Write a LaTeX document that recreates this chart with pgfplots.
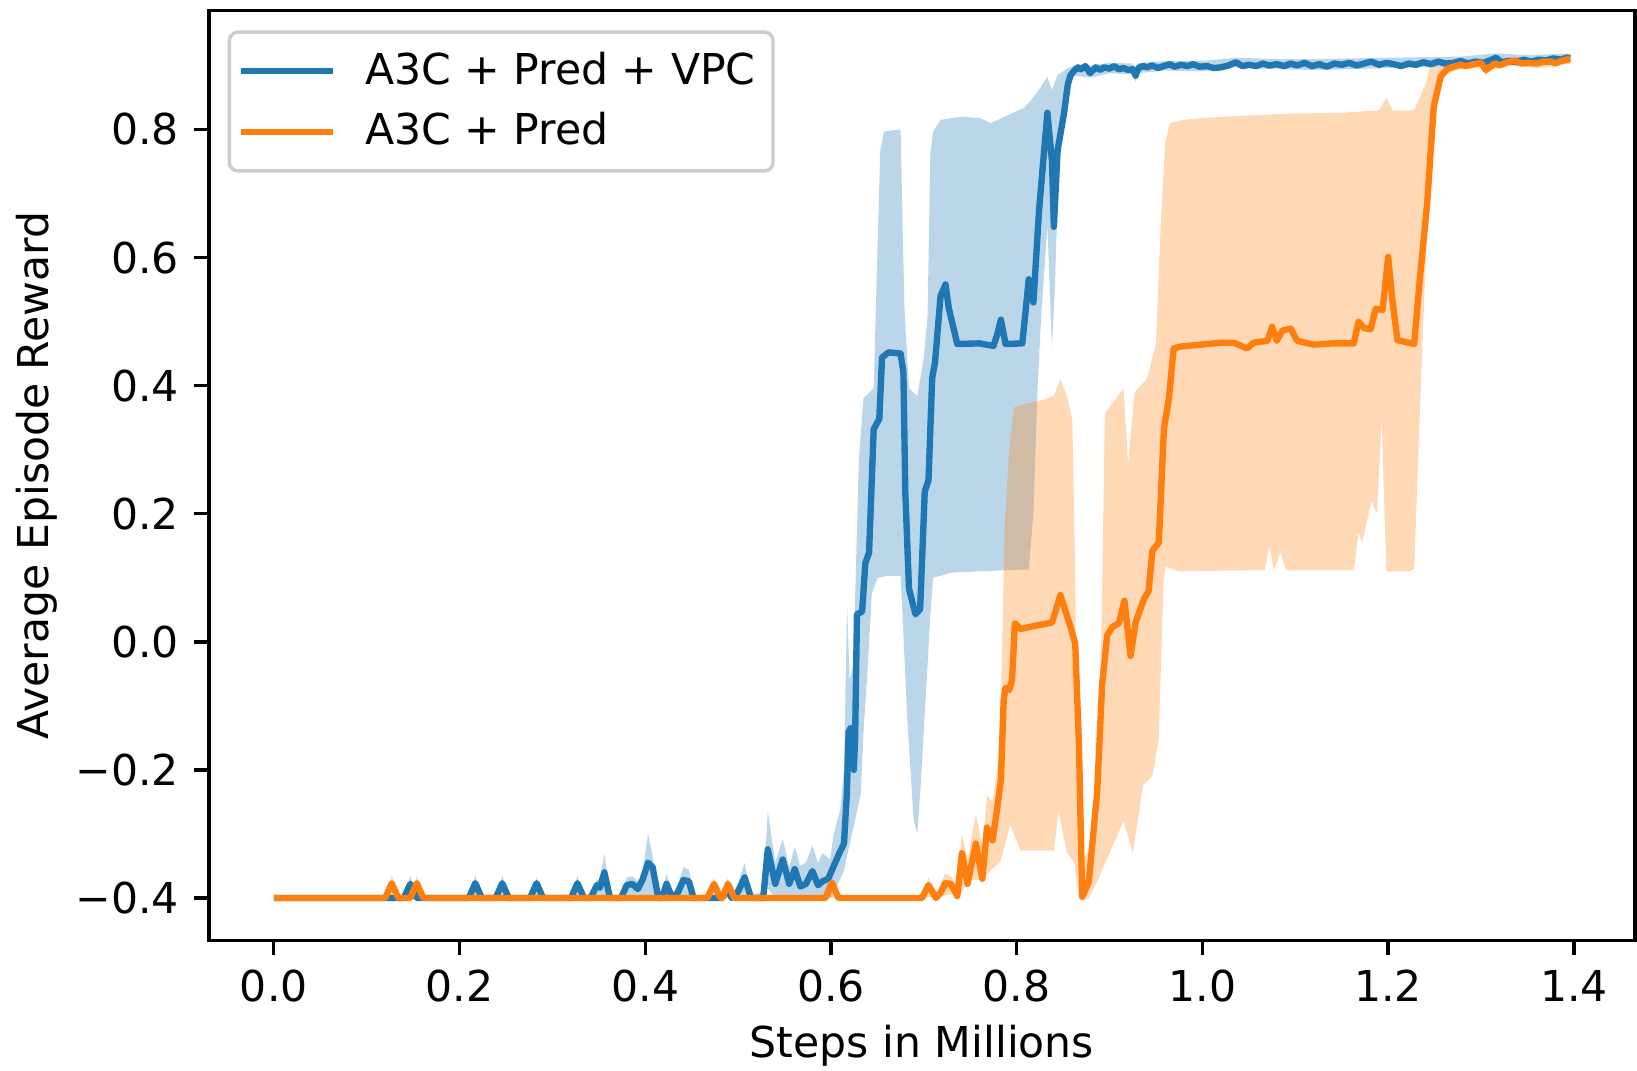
\documentclass[border=0pt]{standalone}
\usepackage{pgfplots}
\pgfplotsset{compat=1.18}
\usepgfplotslibrary{fillbetween}
\usepackage{fontspec}
\setmainfont{DejaVu Sans}

\definecolor{tabblue}{RGB}{31,119,180}
\definecolor{taborange}{RGB}{255,127,14}

% mean reward, A3C + Pred + VPC
\pgfplotstableread{
x y
0.000 -0.400
0.140 -0.400
0.147 -0.378
0.154 -0.400
0.210 -0.400
0.217 -0.377
0.224 -0.400
0.239 -0.400
0.246 -0.377
0.253 -0.400
0.276 -0.400
0.283 -0.377
0.290 -0.400
0.320 -0.400
0.327 -0.377
0.334 -0.400
0.341 -0.400
0.348 -0.380
0.351 -0.384
0.356 -0.360
0.362 -0.400
0.374 -0.400
0.380 -0.380
0.386 -0.378
0.392 -0.386
0.397 -0.372
0.403 -0.345
0.408 -0.352
0.414 -0.400
0.418 -0.400
0.423 -0.378
0.429 -0.400
0.435 -0.392
0.441 -0.372
0.447 -0.374
0.452 -0.400
0.483 -0.400
0.488 -0.384
0.493 -0.400
0.500 -0.390
0.507 -0.368
0.514 -0.400
0.527 -0.400
0.532 -0.324
0.540 -0.378
0.548 -0.340
0.555 -0.378
0.561 -0.355
0.567 -0.382
0.573 -0.378
0.580 -0.358
0.586 -0.380
0.591 -0.374
0.597 -0.370
0.603 -0.350
0.609 -0.330
0.614 -0.315
0.617 -0.240
0.619 -0.141
0.621 -0.135
0.6246 -0.200
0.626 -0.150
0.628 0.043
0.6335 0.047
0.637 0.123
0.641 0.139
0.646 0.332
0.652 0.348
0.655 0.444
0.662 0.452
0.675 0.450
0.678 0.420
0.680 0.235
0.684 0.083
0.691 0.043
0.696 0.051
0.701 0.235
0.705 0.252
0.709 0.412
0.712 0.436
0.718 0.540
0.7233 0.558
0.727 0.520
0.736 0.465
0.760 0.466
0.775 0.462
0.779 0.480
0.783 0.503
0.788 0.465
0.806 0.466
0.813 0.566
0.818 0.530
0.824 0.673
0.833 0.826
0.838 0.750
0.840 0.648
0.844 0.767
0.851 0.826
0.855 0.870
0.858 0.885
0.862 0.892
0.866 0.897
0.869 0.894
0.874 0.899
0.879 0.888
0.885 0.897
0.890 0.893
0.894 0.897
0.900 0.895
0.905 0.899
0.910 0.894
0.915 0.896
0.920 0.893
0.925 0.894
0.928 0.884
0.931 0.896
0.936 0.899
0.940 0.897
0.946 0.900
0.952 0.896
0.958 0.899
0.965 0.902
0.970 0.898
0.977 0.901
0.984 0.899
0.990 0.902
0.997 0.898
1.005 0.899
1.012 0.896
1.020 0.897
1.028 0.900
1.036 0.905
1.043 0.899
1.050 0.901
1.058 0.899
1.065 0.903
1.072 0.900
1.080 0.902
1.088 0.899
1.095 0.903
1.102 0.900
1.110 0.904
1.118 0.899
1.126 0.902
1.134 0.898
1.142 0.903
1.150 0.901
1.158 0.904
1.166 0.900
1.174 0.903
1.182 0.906
1.190 0.901
1.198 0.904
1.206 0.902
1.214 0.899
1.222 0.903
1.230 0.901
1.238 0.905
1.246 0.902
1.254 0.906
1.262 0.903
1.270 0.904
1.278 0.907
1.286 0.903
1.294 0.906
1.302 0.904
1.310 0.908
1.316 0.912
1.322 0.905
1.330 0.907
1.338 0.905
1.346 0.909
1.354 0.906
1.362 0.909
1.370 0.908
1.378 0.911
1.386 0.909
1.392 0.912
1.396 0.911
}\vpcmean

% upper edge of the spread, A3C + Pred + VPC
\pgfplotstableread{
x y
0.000 -0.400
0.140 -0.400
0.147 -0.365
0.154 -0.400
0.210 -0.400
0.217 -0.365
0.224 -0.400
0.239 -0.400
0.246 -0.365
0.253 -0.400
0.276 -0.400
0.283 -0.368
0.290 -0.400
0.320 -0.400
0.327 -0.365
0.334 -0.400
0.341 -0.400
0.348 -0.370
0.351 -0.374
0.356 -0.330
0.362 -0.398
0.374 -0.398
0.380 -0.368
0.386 -0.366
0.392 -0.374
0.397 -0.360
0.403 -0.300
0.408 -0.335
0.414 -0.390
0.418 -0.392
0.423 -0.362
0.429 -0.392
0.435 -0.380
0.441 -0.352
0.447 -0.356
0.452 -0.396
0.483 -0.396
0.488 -0.370
0.493 -0.396
0.500 -0.378
0.507 -0.345
0.514 -0.396
0.527 -0.390
0.532 -0.264
0.540 -0.345
0.548 -0.308
0.555 -0.352
0.561 -0.320
0.567 -0.350
0.573 -0.345
0.580 -0.318
0.586 -0.345
0.591 -0.330
0.599 -0.340
0.603 -0.300
0.610 -0.262
0.614 -0.200
0.6174 0.059
0.620 -0.060
0.624 -0.037
0.630 0.284
0.635 0.380
0.646 0.396
0.653 0.765
0.657 0.797
0.675 0.800
0.679 0.524
0.684 0.396
0.693 0.384
0.700 0.444
0.704 0.508
0.707 0.765
0.710 0.797
0.718 0.815
0.740 0.820
0.760 0.818
0.772 0.810
0.790 0.822
0.808 0.834
0.815 0.845
0.822 0.858
0.833 0.882
0.838 0.862
0.844 0.885
0.854 0.895
0.862 0.900
0.880 0.900
0.900 0.904
0.925 0.903
0.928 0.893
0.931 0.904
0.960 0.907
1.000 0.907
1.036 0.912
1.080 0.910
1.120 0.910
1.160 0.911
1.200 0.912
1.240 0.913
1.280 0.914
1.316 0.919
1.350 0.916
1.396 0.919
}\vpchigh

% lower edge of the spread, A3C + Pred + VPC
\pgfplotstableread{
x y
0.000 -0.400
0.527 -0.400
0.532 -0.385
0.540 -0.400
0.600 -0.400
0.614 -0.358
0.621 -0.310
0.626 -0.278
0.632 -0.238
0.635 -0.141
0.639 -0.053
0.644 0.075
0.650 0.099
0.660 0.103
0.675 0.103
0.677 0.043
0.682 -0.117
0.689 -0.278
0.693 -0.300
0.696 -0.238
0.704 -0.037
0.707 0.043
0.710 0.100
0.730 0.108
0.760 0.110
0.790 0.112
0.813 0.113
0.818 0.200
0.822 0.380
0.826 0.500
0.833 0.650
0.838 0.460
0.841 0.550
0.845 0.730
0.850 0.820
0.856 0.870
0.862 0.884
0.880 0.881
0.900 0.888
0.925 0.886
0.928 0.874
0.931 0.888
0.960 0.892
1.000 0.891
1.036 0.897
1.080 0.894
1.120 0.893
1.160 0.894
1.200 0.896
1.240 0.897
1.280 0.898
1.316 0.904
1.350 0.900
1.396 0.903
}\vpclow

% mean reward, A3C + Pred
\pgfplotstableread{
x y
0.000 -0.400
0.120 -0.400
0.127 -0.377
0.134 -0.400
0.147 -0.400
0.154 -0.377
0.161 -0.400
0.467 -0.400
0.474 -0.378
0.481 -0.400
0.483 -0.400
0.489 -0.378
0.496 -0.400
0.594 -0.400
0.601 -0.376
0.608 -0.400
0.698 -0.400
0.705 -0.380
0.713 -0.400
0.718 -0.392
0.723 -0.377
0.729 -0.378
0.736 -0.397
0.741 -0.330
0.747 -0.378
0.756 -0.315
0.763 -0.370
0.768 -0.290
0.774 -0.310
0.779 -0.260
0.783 -0.215
0.786 -0.090
0.788 -0.072
0.792 -0.075
0.795 -0.060
0.798 0.029
0.804 0.020
0.820 0.025
0.838 0.030
0.847 0.073
0.858 0.023
0.863 -0.003
0.867 -0.160
0.8705 -0.398
0.8776 -0.375
0.8866 -0.236
0.892 -0.066
0.8974 0.010
0.9028 0.023
0.910 0.029
0.916 0.064
0.9226 -0.022
0.928 0.030
0.937 0.067
0.942 0.079
0.946 0.142
0.953 0.155
0.9585 0.332
0.964 0.382
0.969 0.458
0.976 0.461
0.998 0.464
1.020 0.467
1.034 0.467
1.048 0.458
1.055 0.467
1.070 0.470
1.075 0.492
1.080 0.470
1.086 0.486
1.095 0.489
1.102 0.470
1.120 0.464
1.140 0.466
1.163 0.466
1.168 0.500
1.174 0.490
1.181 0.488
1.1865 0.520
1.194 0.518
1.200 0.601
1.2044 0.535
1.210 0.471
1.228 0.465
1.234 0.565
1.242 0.685
1.249 0.835
1.2565 0.883
1.264 0.895
1.270 0.898
1.278 0.901
1.284 0.899
1.292 0.902
1.300 0.904
1.305 0.893
1.315 0.903
1.320 0.900
1.328 0.905
1.336 0.907
1.344 0.903
1.350 0.904
1.360 0.903
1.368 0.906
1.375 0.906
1.380 0.903
1.386 0.907
1.392 0.909
1.396 0.911
}\predmean

% upper edge of the spread, A3C + Pred
\pgfplotstableread{
x y
0.000 -0.400
0.120 -0.400
0.127 -0.365
0.134 -0.400
0.147 -0.400
0.154 -0.365
0.161 -0.400
0.467 -0.400
0.474 -0.368
0.481 -0.400
0.483 -0.400
0.489 -0.368
0.496 -0.400
0.594 -0.400
0.601 -0.365
0.608 -0.400
0.698 -0.400
0.705 -0.368
0.713 -0.395
0.723 -0.362
0.729 -0.366
0.736 -0.380
0.741 -0.300
0.747 -0.340
0.756 -0.270
0.763 -0.318
0.768 -0.240
0.774 -0.250
0.779 -0.200
0.783 -0.100
0.787 0.180
0.792 0.300
0.797 0.366
0.810 0.372
0.830 0.378
0.840 0.385
0.847 0.410
0.855 0.380
0.860 0.344
0.863 0.100
0.866 -0.320
0.872 -0.340
0.880 -0.320
0.888 -0.280
0.891 0.000
0.895 0.357
0.902 0.370
0.907 0.380
0.915 0.395
0.920 0.280
0.927 0.390
0.940 0.410
0.950 0.465
0.955 0.650
0.960 0.780
0.965 0.810
0.980 0.815
1.000 0.818
1.050 0.822
1.100 0.825
1.150 0.826
1.190 0.830
1.198 0.849
1.205 0.830
1.228 0.830
1.240 0.870
1.245 0.898
1.256 0.898
1.264 0.903
1.278 0.908
1.300 0.911
1.305 0.902
1.315 0.910
1.336 0.914
1.360 0.910
1.386 0.914
1.396 0.918
}\predhigh

% lower edge of the spread, A3C + Pred
\pgfplotstableread{
x y
0.000 -0.400
0.700 -0.400
0.740 -0.392
0.750 -0.372
0.760 -0.372
0.770 -0.360
0.7825 -0.343
0.793 -0.286
0.804 -0.326
0.840 -0.326
0.845 -0.265
0.854 -0.328
0.862 -0.345
0.867 -0.400
0.870 -0.405
0.878 -0.400
0.888 -0.370
0.900 -0.330
0.915 -0.280
0.925 -0.330
0.936 -0.224
0.946 -0.210
0.953 -0.150
0.958 0.092
0.960 0.117
0.975 0.110
1.067 0.112
1.072 0.149
1.077 0.112
1.084 0.140
1.090 0.112
1.163 0.112
1.168 0.170
1.172 0.155
1.182 0.220
1.188 0.200
1.193 0.350
1.198 0.110
1.221 0.110
1.228 0.113
1.234 0.354
1.242 0.655
1.249 0.820
1.256 0.872
1.264 0.888
1.278 0.894
1.300 0.897
1.305 0.885
1.315 0.896
1.336 0.900
1.360 0.896
1.386 0.900
1.396 0.904
}\predlow

\begin{document}
\begin{tikzpicture}
\begin{axis}[
  scale only axis,
  width=335.1pt, height=218.5pt,
  xmin=-0.0698, xmax=1.4658,
  ymin=-0.466, ymax=0.986,
  axis line style={black, line width=0.8pt},
  tick align=outside, tick pos=left,
  major tick length=3.5pt,
  every tick/.style={black, line width=0.8pt},
  xtick={0,0.2,0.4,0.6,0.8,1.0,1.2,1.4},
  xticklabels={0.0,0.2,0.4,0.6,0.8,1.0,1.2,1.4},
  ytick={-0.4,-0.2,0,0.2,0.4,0.6,0.8},
  yticklabels={−0.4,−0.2,0.0,0.2,0.4,0.6,0.8},
  tick label style={font=\fontsize{10}{12}\selectfont, black},
  xlabel={Steps in Millions},
  ylabel={Average Episode Reward},
  label style={font=\fontsize{10}{12}\selectfont, black},
  xlabel style={at={(axis description cs:0.5,0)}, anchor=base, yshift=-27.6pt},
  ylabel style={at={(axis description cs:0,0.5)}, anchor=base, yshift=37.6pt},
  legend cell align=left,
  legend image code/.code={%
    \draw[#1, line width=1.5pt] (0pt,0pt) -- (21.4pt,0pt);
    \path (26.3pt,0pt);},
  legend style={
    at={(axis description cs:0.0131,0.9784)}, anchor=north west,
    draw=black!20, line width=0.8pt, rounded corners=2pt,
    fill=white, fill opacity=0.8, text opacity=1,
    inner xsep=2.1pt, inner ysep=2.6pt,
    font=\fontsize{10}{12}\selectfont,
    row sep=1.2pt,
  },
]
% spread bands (drawn beneath the mean curves)
\addplot[name path=vh, draw=none, forget plot] table {\vpchigh};
\addplot[name path=vl, draw=none, forget plot] table {\vpclow};
\addplot[tabblue, fill opacity=0.3, draw=none, forget plot] fill between[of=vh and vl];
\addplot[name path=ph, draw=none, forget plot] table {\predhigh};
\addplot[name path=pl, draw=none, forget plot] table {\predlow};
\addplot[taborange, fill opacity=0.3, draw=none, forget plot] fill between[of=ph and pl];
% mean curves
\addplot[tabblue, line width=1.5pt, line join=round] table {\vpcmean};
\addlegendentry{A3C + Pred + VPC}
\addplot[taborange, line width=1.5pt, line join=round] table {\predmean};
\addlegendentry{A3C + Pred}
\end{axis}
\pgfresetboundingbox
\path[use as bounding box] ([xshift=-49.1pt,yshift=-30.55pt]current axis.south west) rectangle ([xshift=0.47pt,yshift=2.44pt]current axis.north east);
\end{tikzpicture}
\end{document}
